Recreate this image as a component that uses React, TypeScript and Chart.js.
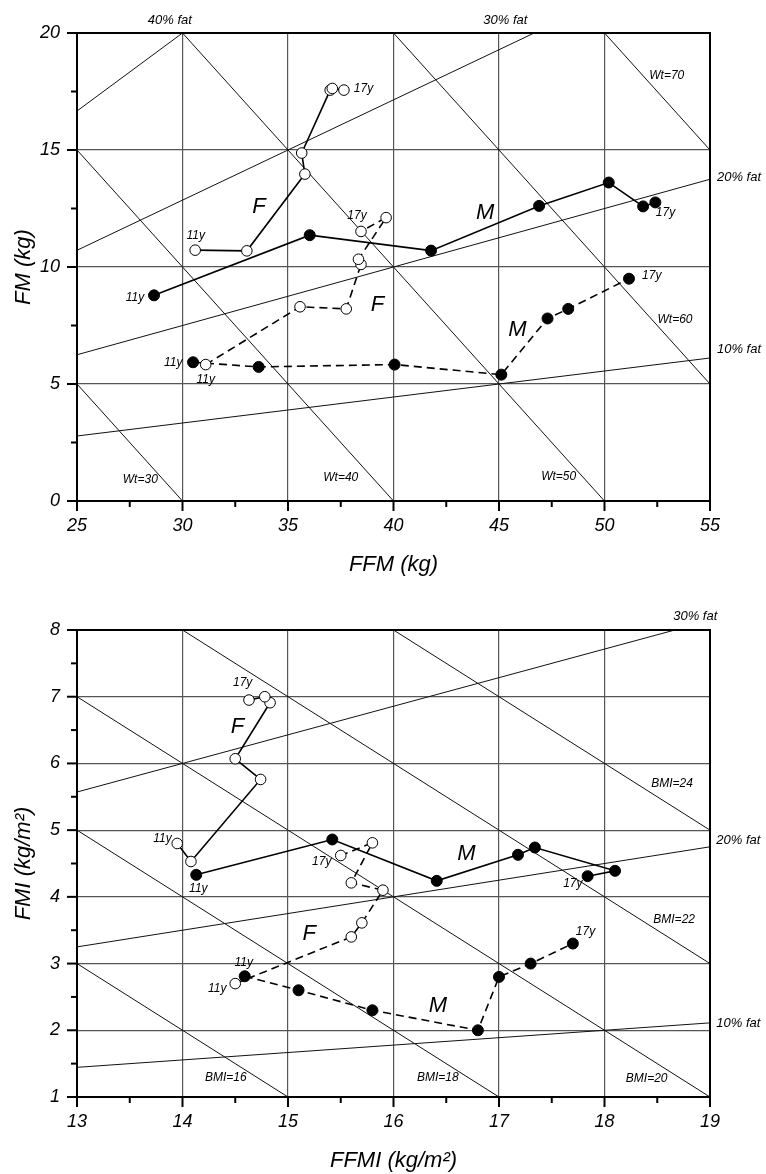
import React, { useEffect, useRef } from 'react';
import { Chart, registerables } from 'chart.js';

Chart.register(...registerables);

const FONT = '"Liberation Sans", Arial, Helvetica, sans-serif';

// ---------------- Panel A : FM vs FFM ----------------
const ffmTicks = [25, 30, 35, 40, 45, 50, 55];
const fmTicks = [0, 5, 10, 15, 20];
const fatPercentsA = [10, 20, 30, 40];
const weightLinesA = [30, 40, 50, 60, 70];

const girlsSolidFFM = [30.6, 33.05, 35.8, 35.65, 37.0, 37.1, 37.65];
const girlsSolidFM = [10.72, 10.69, 13.97, 14.87, 17.56, 17.63, 17.56];
const boysSolidFFM = [28.65, 36.03, 41.78, 46.9, 50.2, 51.83, 52.41];
const boysSolidFM = [8.79, 11.36, 10.7, 12.61, 13.61, 12.59, 12.76];
const girlsDashedFFM = [31.1, 35.57, 37.76, 38.46, 38.34, 39.65, 38.46];
const girlsDashedFM = [5.83, 8.3, 8.21, 10.11, 10.33, 12.11, 11.52];
const boysDashedFFM = [30.5, 33.61, 40.05, 45.11, 47.3, 48.28, 51.16];
const boysDashedFM = [5.93, 5.73, 5.83, 5.4, 7.8, 8.21, 9.5];

const notesA = [
  { text: 'F', x: 33.62, y: 12.56, size: 22 },
  { text: 'M', x: 44.34, y: 12.33, size: 22 },
  { text: 'F', x: 39.24, y: 8.4, size: 22 },
  { text: 'M', x: 45.87, y: 7.33, size: 22 },
  { text: '11y', x: 30.63, y: 11.36, size: 12 },
  { text: '17y', x: 38.58, y: 17.63, size: 12 },
  { text: '11y', x: 27.75, y: 8.69, size: 12 },
  { text: '17y', x: 52.89, y: 12.33, size: 12 },
  { text: '11y', x: 31.1, y: 5.19, size: 12 },
  { text: '11y', x: 29.56, y: 5.9, size: 12 },
  { text: '17y', x: 38.27, y: 12.2, size: 12 },
  { text: '17y', x: 52.24, y: 9.61, size: 12 },
  { text: 'Wt=70', x: 52.95, y: 18.19, size: 12 },
  { text: 'Wt=60', x: 53.34, y: 7.73, size: 12 },
  { text: 'Wt=50', x: 47.83, y: 1.04, size: 12 },
  { text: 'Wt=40', x: 37.5, y: 0.98, size: 12 },
  { text: 'Wt=30', x: 28.0, y: 0.9, size: 12 },
  { text: '40% fat', x: 29.4, y: 20.55, size: 13 },
  { text: '30% fat', x: 45.3, y: 20.55, size: 13 },
  { text: '20% fat', x: 55.33, y: 13.83, size: 13, align: 'left' },
  { text: '10% fat', x: 55.33, y: 6.5, size: 13, align: 'left' },
];

// ---------------- Panel B : FMI vs FFMI ----------------
const ffmiTicks = [13, 14, 15, 16, 17, 18, 19];
const fmiTicks = [1, 2, 3, 4, 5, 6, 7, 8];
const fatPercentsB = [10, 20, 30];
const bmiLinesB = [16, 18, 20, 22, 24];

const girlsSolidFFMI = [13.95, 14.08, 14.74, 14.5, 14.83, 14.78, 14.63];
const girlsSolidFMI = [4.8, 4.53, 5.76, 6.07, 6.91, 7.0, 6.95];
const boysSolidFFMI = [14.13, 15.42, 16.41, 17.18, 17.34, 18.1, 17.84];
const boysSolidFMI = [4.33, 4.86, 4.24, 4.63, 4.74, 4.39, 4.31];
const girlsDashedFFMI = [14.5, 15.6, 15.7, 15.9, 15.6, 15.8, 15.5];
const girlsDashedFMI = [2.7, 3.4, 3.61, 4.1, 4.21, 4.81, 4.62];
const boysDashedFFMI = [14.59, 15.1, 15.8, 16.8, 17.0, 17.3, 17.7];
const boysDashedFMI = [2.81, 2.6, 2.3, 2.0, 2.8, 3.0, 3.3];

const notesB = [
  { text: 'F', x: 14.52, y: 6.55, size: 22 },
  { text: 'M', x: 16.69, y: 4.65, size: 22 },
  { text: 'F', x: 15.2, y: 3.45, size: 22 },
  { text: 'M', x: 16.42, y: 2.37, size: 22 },
  { text: '11y', x: 13.81, y: 4.87, size: 12 },
  { text: '11y', x: 14.15, y: 4.13, size: 12 },
  { text: '11y', x: 14.33, y: 2.63, size: 12 },
  { text: '11y', x: 14.58, y: 3.01, size: 12 },
  { text: '17y', x: 14.57, y: 7.21, size: 12 },
  { text: '17y', x: 17.7, y: 4.2, size: 12 },
  { text: '17y', x: 15.32, y: 4.53, size: 12 },
  { text: '17y', x: 17.82, y: 3.48, size: 12 },
  { text: 'BMI=16', x: 14.41, y: 1.29, size: 12 },
  { text: 'BMI=18', x: 16.42, y: 1.29, size: 12 },
  { text: 'BMI=20', x: 18.4, y: 1.28, size: 12 },
  { text: 'BMI=22', x: 18.66, y: 3.66, size: 12 },
  { text: 'BMI=24', x: 18.64, y: 5.69, size: 12 },
  { text: '30% fat', x: 18.86, y: 8.2, size: 13 },
  { text: '20% fat', x: 19.06, y: 4.85, size: 13, align: 'left' },
  { text: '10% fat', x: 19.06, y: 2.1, size: 13, align: 'left' },
];

type Pt = { x: number; y: number };

const zip = (xs: number[], ys: number[]): Pt[] => xs.map((v, i) => ({ x: v, y: ys[i] }));

// iso-%fat guide: fat / lean = p / (100 - p)
function fatGuide(p: number, xmin: number, xmax: number, ymax: number): Pt[] {
  const k = p / (100 - p);
  const x2 = Math.min(xmax, ymax / k);
  return [{ x: xmin, y: k * xmin }, { x: x2, y: k * x2 }];
}
// iso-total guide: fat + lean = total
function sumGuide(t: number, xmin: number, xmax: number, ymin: number, ymax: number): Pt[] {
  const x1 = Math.max(xmin, t - ymax);
  const x2 = Math.min(xmax, t - ymin);
  return [{ x: x1, y: t - x1 }, { x: x2, y: t - x2 }];
}

function guideSet(data: Pt[]) {
  return {
    data,
    showLine: true,
    borderColor: '#111',
    borderWidth: 1,
    pointRadius: 0,
    order: 10,
  };
}

function seriesSet(data: Pt[], filled: boolean, dashed: boolean) {
  return {
    data,
    showLine: true,
    borderColor: '#000',
    borderWidth: 1.6,
    borderDash: dashed ? [8, 5] : [],
    pointRadius: filled ? 5.5 : 5.3,
    pointBorderWidth: 1,
    pointBorderColor: '#000',
    pointBackgroundColor: filled ? '#000' : '#fff',
    order: 0,
  };
}

function decorPlugin(xMajor: number, xMinor: number, yMajor: number, yMinor: number, notes: any[]) {
  return {
    id: 'decor',
    afterDraw(chart: any) {
      const { ctx, chartArea: a } = chart;
      const xs = chart.scales.x;
      const ys = chart.scales.y;
      ctx.save();
      ctx.strokeStyle = '#000';
      ctx.lineWidth = 2;
      const nx = Math.round((xs.max - xs.min) / xMinor);
      for (let i = 0; i <= nx; i++) {
        const v = xs.min + i * xMinor;
        const r = (v - xs.min) / xMajor;
        const len = Math.abs(r - Math.round(r)) < 1e-6 ? 10 : 6;
        const px = xs.getPixelForValue(v);
        ctx.beginPath();
        ctx.moveTo(px, a.bottom);
        ctx.lineTo(px, a.bottom + len);
        ctx.stroke();
      }
      const ny = Math.round((ys.max - ys.min) / yMinor);
      for (let i = 0; i <= ny; i++) {
        const v = ys.min + i * yMinor;
        const r = (v - ys.min) / yMajor;
        const len = Math.abs(r - Math.round(r)) < 1e-6 ? 10 : 6;
        const py = ys.getPixelForValue(v);
        ctx.beginPath();
        ctx.moveTo(a.left, py);
        ctx.lineTo(a.left - len, py);
        ctx.stroke();
      }
      ctx.strokeRect(a.left, a.top, a.right - a.left, a.bottom - a.top);

      ctx.fillStyle = '#000';
      ctx.textBaseline = 'middle';
      for (const n of notes) {
        ctx.font = `italic ${n.size}px ${FONT}`;
        ctx.textAlign = n.align || 'center';
        ctx.fillText(n.text, xs.getPixelForValue(n.x), ys.getPixelForValue(n.y));
      }
      ctx.restore();
    },
  };
}

function axisScale(opts: any) {
  const { min, max, ticks, title, isX, size, titlePad } = opts;
  return {
    type: 'linear',
    min,
    max,
    afterBuildTicks: (s: any) => {
      s.ticks = ticks.map((v: number) => ({ value: v }));
    },
    afterFit: (s: any) => {
      if (isX) s.height = size;
      else s.width = size;
    },
    ticks: {
      color: '#000',
      font: { family: FONT, size: 18, style: 'italic' },
      padding: isX ? 14 : 17,
      autoSkip: false,
      maxRotation: 0,
    },
    grid: { color: '#555', lineWidth: 1.2, drawTicks: false },
    border: { display: false },
    title: {
      display: true,
      text: title,
      color: '#000',
      font: { family: FONT, size: 22, style: 'italic' },
      padding: titlePad,
    },
  };
}

function configA() {
  const guides = [
    ...fatPercentsA.map((p) => guideSet(fatGuide(p, 25, 55, 20))),
    ...weightLinesA.map((w) => guideSet(sumGuide(w, 25, 55, 0, 20))),
  ];
  return {
    type: 'scatter',
    data: {
      datasets: [
        seriesSet(zip(girlsSolidFFM, girlsSolidFM), false, false),
        seriesSet(zip(boysSolidFFM, boysSolidFM), true, false),
        seriesSet(zip(girlsDashedFFM, girlsDashedFM), false, true),
        seriesSet(zip(boysDashedFFM, boysDashedFM), true, true),
        ...guides,
      ],
    },
    options: {
      animation: false,
      responsive: false,
      layout: { padding: { top: 33, right: 56, left: 0, bottom: 0 } },
      plugins: { legend: { display: false }, tooltip: { enabled: false } },
      scales: {
        x: axisScale({ min: 25, max: 55, ticks: ffmTicks, title: 'FFM (kg)', isX: true, size: 89, titlePad: { top: 0, bottom: 12 } }),
        y: axisScale({ min: 0, max: 20, ticks: fmTicks, title: 'FM (kg)', isX: false, size: 77, titlePad: { top: 11, bottom: 0 } }),
      },
    },
    plugins: [decorPlugin(5, 2.5, 5, 2.5, notesA)],
  };
}

function configB() {
  const guides = [
    ...fatPercentsB.map((p) => guideSet(fatGuide(p, 13, 19, 8))),
    ...bmiLinesB.map((b) => guideSet(sumGuide(b, 13, 19, 1, 8))),
  ];
  return {
    type: 'scatter',
    data: {
      datasets: [
        seriesSet(zip(girlsSolidFFMI, girlsSolidFMI), false, false),
        seriesSet(zip(boysSolidFFMI, boysSolidFMI), true, false),
        seriesSet(zip(girlsDashedFFMI, girlsDashedFMI), false, true),
        seriesSet(zip(boysDashedFFMI, boysDashedFMI), true, true),
        ...guides,
      ],
    },
    options: {
      animation: false,
      responsive: false,
      layout: { padding: { top: 40, right: 56, left: 0, bottom: 0 } },
      plugins: { legend: { display: false }, tooltip: { enabled: false } },
      scales: {
        x: axisScale({ min: 13, max: 19, ticks: ffmiTicks, title: 'FFMI (kg/m²)', isX: true, size: 77, titlePad: { top: 0, bottom: 0 } }),
        y: axisScale({ min: 1, max: 8, ticks: fmiTicks, title: 'FMI (kg/m²)', isX: false, size: 77, titlePad: { top: 11, bottom: 0 } }),
      },
    },
    plugins: [decorPlugin(1, 0.5, 1, 0.5, notesB)],
  };
}

function Panel({ make, top, height }: { make: () => any; top: number; height: number }) {
  const ref = useRef<HTMLCanvasElement | null>(null);
  useEffect(() => {
    const chart = new Chart(ref.current as HTMLCanvasElement, make());
    return () => chart.destroy();
  }, []);
  return (
    <canvas
      ref={ref}
      width={766}
      height={height}
      style={{ position: 'absolute', left: 0, top, width: 766, height, display: 'block' }}
    />
  );
}

export default function App() {
  return (
    <div style={{ position: 'absolute', left: 0, top: 0, width: 766, height: 1174, background: '#fff', overflow: 'hidden' }}>
      <Panel make={configA} top={0} height={590} />
      <Panel make={configB} top={590} height={584} />
    </div>
  );
}
